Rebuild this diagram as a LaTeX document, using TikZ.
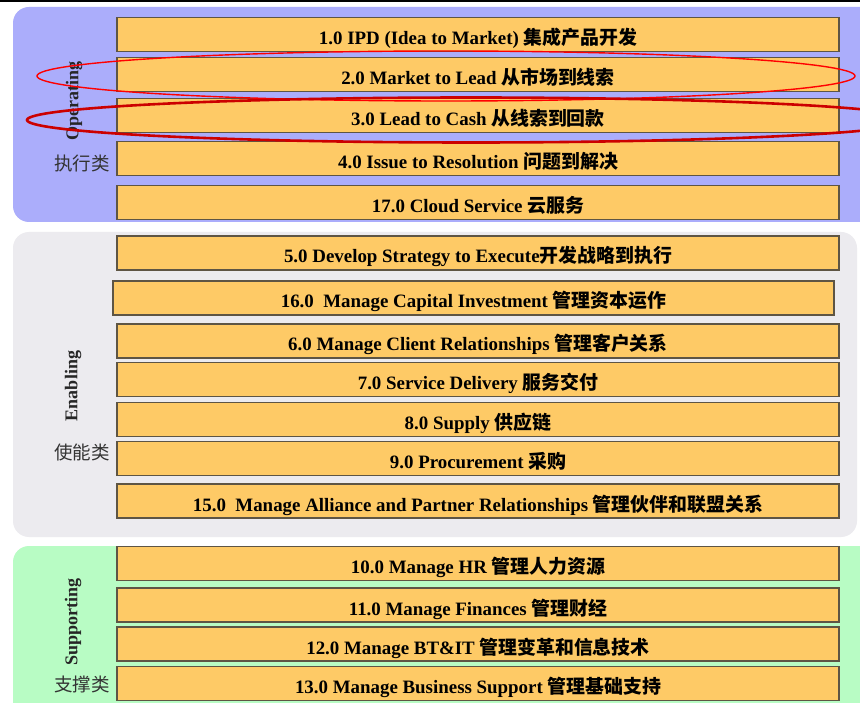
\documentclass[tikz,border=0pt]{standalone}
\usepackage{fontspec}
\setmainfont{Liberation Serif}
\newfontfamily\cjk{Noto Sans CJK SC}
\usepackage{tikz}
\usetikzlibrary{positioning}

\definecolor{operblue}{HTML}{ABADFB}
\definecolor{enabgray}{HTML}{ECEBEF}
\definecolor{suppgreen}{HTML}{B8FCC4}
\definecolor{barorange}{HTML}{FECA66}
\definecolor{barline}{HTML}{5E5544}

\newcommand{\zh}[1]{{\cjk\bfseries #1}}

\begin{document}
\begin{tikzpicture}[x=1pt, y=-1pt,
  procbar/.style={draw=barline, line width=1.2pt, fill=barorange, inner sep=0pt,
    minimum width=722pt, minimum height=34pt, text height=20pt, text depth=0pt,
    font=\fontsize{18.9}{20}\selectfont\bfseries},
  grouplabel/.style={rotate=90, font=\fontsize{18}{20}\selectfont\bfseries, text=black!85},
  groupzh/.style={font=\cjk\fontsize{18.5}{20}\selectfont, text=black!80}]

\clip (0,0) rectangle (860,703);
\fill[white] (0,0) rectangle (860,703);
\fill[black] (0,0) rectangle (860,2);

% -------------------------------------------------------
% 1. Group panels
% -------------------------------------------------------
\fill[operblue, rounded corners=16pt] (13,7) rectangle (890,222);
\fill[enabgray, rounded corners=16pt] (13,232) rectangle (857,537);
\fill[suppgreen, rounded corners=16pt] (13,546) rectangle (890,730);

% -------------------------------------------------------
% 2. Operating processes
% -------------------------------------------------------
\node[procbar] (p1)  at (478,34.5)  {1.0 IPD (Idea to Market) \zh{集成产品开发}};
\node[procbar] (p2)  at (478,74.5)  {2.0 Market to Lead \zh{从市场到线索}};
\node[procbar] (p3)  at (478,115.5) {3.0 Lead to Cash \zh{从线索到回款}};
\node[procbar] (p4)  at (478,158.5) {4.0 Issue to Resolution \zh{问题到解决}};
\node[procbar] (p17) at (478,202.5) {17.0 Cloud Service \zh{云服务}};

\node[grouplabel] (oper) at (74,101) {Operating};
\node[groupzh] (operzh) at (82,163) {执行类};

% -------------------------------------------------------
% 3. Enabling processes
% -------------------------------------------------------
\node[procbar] (p5)  at (478,253)   {5.0 Develop Strategy to Execute\zh{开发战略到执行}};
\node[procbar, minimum width=721pt] (p16) at (473.5,298) {16.0~~Manage Capital Investment \zh{管理资本运作}};
\node[procbar] (p6)  at (478,341)   {6.0 Manage Client Relationships \zh{管理客户关系}};
\node[procbar] (p7)  at (478,379.5) {7.0 Service Delivery \zh{服务交付}};
\node[procbar] (p8)  at (478,419.5) {8.0 Supply \zh{供应链}};
\node[procbar] (p9)  at (478,458.5) {9.0 Procurement \zh{采购}};
\node[procbar] (p15) at (478,501)   {15.0~~Manage Alliance and Partner Relationships \zh{管理伙伴和联盟关系}};

\node[grouplabel] (enab) at (73,386) {Enabling};
\node[groupzh] (enabzh) at (82,452) {使能类};

% -------------------------------------------------------
% 4. Supporting processes
% -------------------------------------------------------
\node[procbar] (p10) at (478,563.5) {10.0 Manage HR \zh{管理人力资源}};
\node[procbar] (p11) at (478,605)   {11.0 Manage Finances \zh{管理财经}};
\node[procbar] (p12) at (478,644)   {12.0 Manage BT\&IT \zh{管理变革和信息技术}};
\node[procbar] (p13) at (478,683.5) {13.0 Manage Business Support \zh{管理基础支持}};

\node[grouplabel] (supp) at (73,622) {Supporting};
\node[groupzh] (suppzh) at (82,684) {支撑类};

% -------------------------------------------------------
% 5. Highlight marks
% -------------------------------------------------------
\draw[red, line width=1.4pt] (446,76) ellipse [x radius=409, y radius=25];
\draw[red!80!black, line width=2.6pt] (471,120) ellipse [x radius=444, y radius=22.5];

\end{tikzpicture}
\end{document}
